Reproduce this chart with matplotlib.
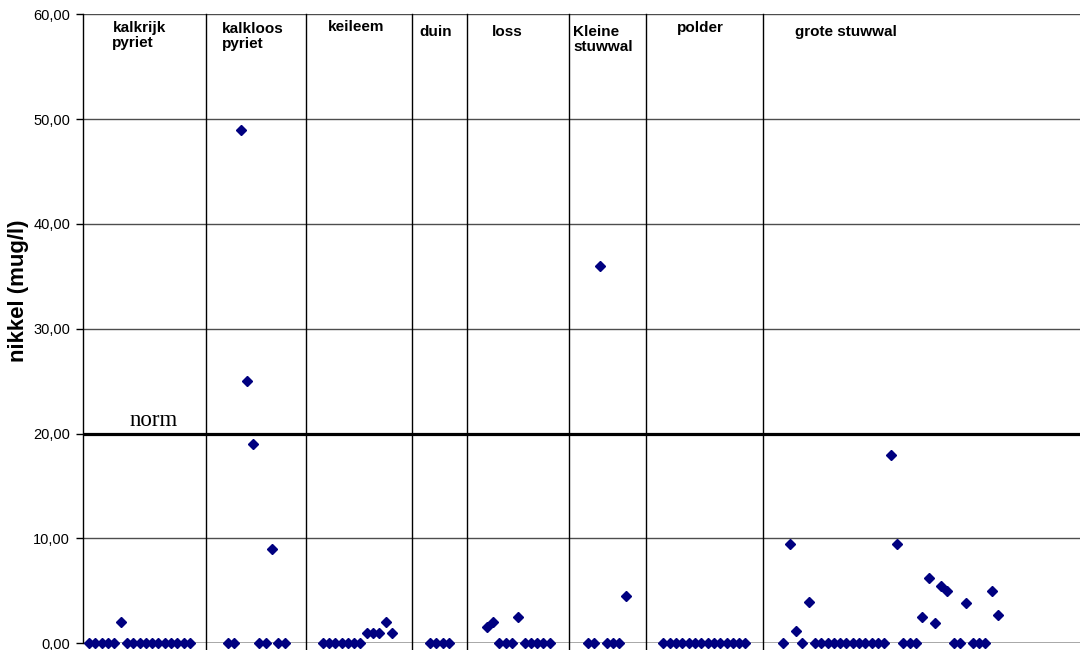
import matplotlib
matplotlib.use("Agg")
import matplotlib.pyplot as plt
from matplotlib.ticker import FuncFormatter

# Nickel concentration per sample, grouped by soil type.
# Each group: label, first sample number, measured values (mug/l).
group_labels = ["kalkrijk\npyriet", "kalkloos\npyriet", "keileem", "duin",
                "loss", "Kleine\nstuwwal", "polder", "grote stuwwal"]
group_start = [1, 23, 38, 55, 64, 80, 92, 111]

kalkrijk_pyriet = [0, 0, 0, 0, 0, 2.0, 0, 0, 0, 0, 0, 0, 0, 0, 0, 0, 0]
kalkloos_pyriet = [0, 0, 49.0, 25.0, 19.0, 0, 0, 9.0, 0, 0]
keileem = [0, 0, 0, 0, 0, 0, 0, 1.0, 1.0, 1.0, 2.0, 1.0]
duin = [0, 0, 0, 0]
loss = [1.6, 2.0, 0, 0, 0, 2.5, 0, 0, 0, 0, 0]
kleine_stuwwal = [0, 0, 36.0, 0, 0, 0, 4.5]
polder = [0, 0, 0, 0, 0, 0, 0, 0, 0, 0, 0, 0, 0, 0]
grote_stuwwal = [0, 9.5, 1.2, 0, 3.9,
                 0, 0, 0, 0, 0, 0, 0, 0, 0, 0, 0, 0,
                 18.0, 9.5, 0, 0, 0, 2.5, 6.2, 1.9, 5.5, 5.0,
                 0, 0, 3.8, 0, 0, 0, 5.0, 2.7]
group_values = [kalkrijk_pyriet, kalkloos_pyriet, keileem, duin,
                loss, kleine_stuwwal, polder, grote_stuwwal]

# Boundaries between soil-type groups (sample axis)
dividers = [19.5, 35.3, 52.2, 60.9, 77.1, 89.2, 107.8]
norm_value = 20.0
y_ticks = [0, 10, 20, 30, 40, 50, 60]

plt.rcParams['font.family'] = ['Liberation Sans', 'DejaVu Sans']

fig = plt.figure(figsize=(10.8, 6.5), dpi=100)
ax = fig.add_axes([0.0766, 0.0103, 0.9234, 0.9677])

x_min, x_max = 0, 158
ax.set_xlim(x_min, x_max)
ax.set_ylim(0, 60)

# horizontal grid
for yv in y_ticks[1:]:
    ax.axhline(yv, color="#4d4d4d", lw=1.0, zorder=1)
ax.axhline(0, color="#9a9a9a", lw=1.2, zorder=1)

# group dividers
for xv in dividers:
    ax.plot([xv, xv], [-0.7, 60], color="black", lw=1.0, zorder=2, clip_on=False)

# norm line
ax.axhline(norm_value, color="black", lw=2.3, zorder=3)
ax.text(11.3, 20.73, "norm", family=["Liberation Serif", "DejaVu Serif"],
        fontsize=16.5, ha="center", va="baseline", zorder=4)

# data points
for start, vals in zip(group_start, group_values):
    xs = [start + i for i in range(len(vals))]
    ax.plot(xs, vals, linestyle="none", marker="D", ms=5.2,
            color="#000080", mec="#000080", zorder=5, clip_on=False)

# group labels (left x in sample units, top y in value units)
label_pos = [(4.7, 59.4), (22.1, 59.3), (38.8, 59.5), (53.3, 59.0),
             (64.8, 59.0), (77.7, 59.0), (94.1, 59.4), (112.8, 59.0)]
for lab, (lx, ly) in zip(group_labels, label_pos):
    ax.text(lx, ly, lab, fontsize=11, fontweight="bold", ha="left", va="top",
            linespacing=1.12, zorder=6)

# axes styling
for side in ["top", "right", "bottom"]:
    ax.spines[side].set_visible(False)
ax.spines["left"].set_color("black")
ax.spines["left"].set_linewidth(1.0)
ax.set_xticks([])
ax.set_yticks(y_ticks)
ax.yaxis.set_major_formatter(FuncFormatter(lambda v, p: f"{v:.2f}".replace(".", ",")))
ax.tick_params(axis="y", direction="out", length=5, width=1, labelsize=10.5, pad=4)
ax.set_ylabel("nikkel (mug/l)", fontsize=16, fontweight="bold")
ax.yaxis.set_label_coords(-0.054, 0.56)

fig.savefig("out.png", dpi=100)
